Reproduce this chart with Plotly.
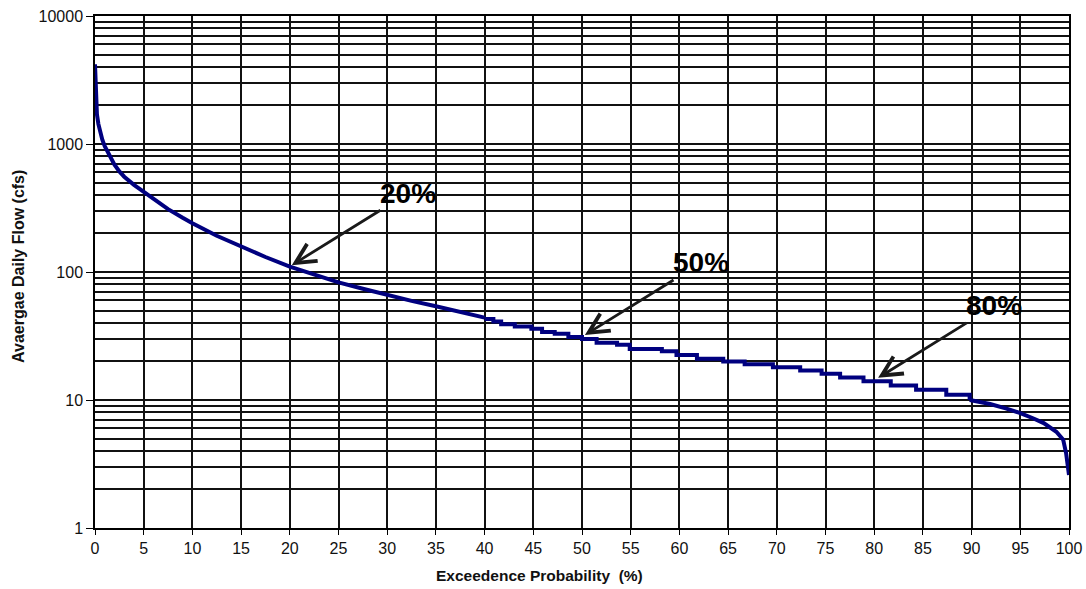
import math
import plotly.graph_objects as go

# Smooth upper part of the flow-duration curve (exceedance %, flow cfs)
smooth_pct = [0.0, 0.02, 0.05, 0.1, 0.2, 0.35, 0.5, 0.75, 1.0, 1.5, 2.0, 2.5, 3.0, 4.0, 5.0, 6.0, 7.5, 9.0,
              10.0, 12.5, 15.0, 17.5, 20.0, 22.5, 25.0, 27.5, 30.0, 32.5, 35.0, 37.5, 40.0]
smooth_flow = [4200, 3700, 3300, 2000, 1700, 1430, 1250, 1080, 960, 800, 690, 610, 555, 480, 424, 375, 310, 265,
               240, 192, 158, 131, 110, 95, 83, 74, 66, 59.5, 54, 48.5, 44]

# Stepped middle part (start of each step, flow held until next step)
step_pct = [40.0, 40.9, 41.7, 43.1, 44.8, 45.9, 47.2, 48.6, 50.0, 51.5, 53.6, 54.9, 58.2, 59.7, 61.8,
            64.5, 66.7, 69.6, 72.4, 74.6, 76.5, 78.9, 81.7, 84.3, 87.4, 89.8]
step_flow = [43, 41, 39, 37.5, 36, 34, 33, 31, 30, 28, 27, 25, 24, 22.5, 21,
             20, 19, 18, 17, 16, 15, 14, 13, 12, 11, 10]

# Low-flow tail
tail_pct = [89.8, 91.9, 93.5, 95.0, 96.3, 97.4, 98.7, 99.4, 99.7, 100.0]
tail_flow = [10, 9.3, 8.6, 7.9, 7.2, 6.6, 5.65, 4.9, 3.85, 2.6]

x_ticks = list(range(0, 101, 5))
y_major = [1, 10, 100, 1000, 10000]
y_major_text = ["1", "10", "100", "1000", "10000"]
y_minor = [m * d for d in [1, 10, 100, 1000] for m in range(2, 10)]

annot_labels = ["20%", "50%", "80%"]
annot_pct = [20.2, 50.3, 80.4]
annot_flow = [113, 32.2, 14.9]

FONT = "Liberation Sans, Arial, sans-serif"
line_color = "#00007f"
grid_color = "#111111"
fig = go.Figure()
fig.add_trace(go.Scatter(x=smooth_pct, y=smooth_flow, mode="lines",
                         line=dict(color=line_color, width=4), showlegend=False))
fig.add_trace(go.Scatter(x=step_pct, y=step_flow, mode="lines", line_shape="hv",
                         line=dict(color=line_color, width=4), showlegend=False))
fig.add_trace(go.Scatter(x=tail_pct, y=tail_flow, mode="lines",
                         line=dict(color=line_color, width=4), showlegend=False))

for lab, px, fy in zip(annot_labels, annot_pct, annot_flow):
    fig.add_annotation(x=px, y=math.log10(fy), yref="y", xref="x", text=f"<b>{lab}</b>",
                       showarrow=True, ax=116, ay=-72, arrowhead=5, arrowsize=1.4,
                       arrowwidth=2.8, arrowcolor="#1a1a1a",
                       font=dict(size=28, color="black", family=FONT))

fig.add_annotation(x=0.456, y=-0.092, xref="paper", yref="paper",
                   text="<b>Exceedence Probability  (%)</b>", showarrow=False,
                   font=dict(size=15.5, color="#111", family=FONT),
                   xanchor="center", yanchor="middle")
fig.add_annotation(x=-0.078, y=0.51, xref="paper", yref="paper",
                   text="<b>Avaergae Daily Flow (cfs)</b>", showarrow=False, textangle=-90,
                   font=dict(size=16, color="#111", family=FONT),
                   xanchor="center", yanchor="middle")

fig.update_layout(
    width=1086, height=589,
    margin=dict(l=95, r=17, t=16, b=61, autoexpand=False),
    paper_bgcolor="white", plot_bgcolor="white",
    font=dict(family=FONT, size=16, color="#111"),
    xaxis=dict(range=[0, 100], tickvals=x_ticks, showgrid=True, gridcolor=grid_color, gridwidth=1.5,
               showline=True, linecolor="black", linewidth=1.5, mirror=True, automargin=False,
               ticks="outside", ticklen=5, tickcolor="black", zeroline=False),
    yaxis=dict(type="log", range=[0, 4], tickvals=y_major, ticktext=y_major_text,
               showgrid=True, gridcolor=grid_color, gridwidth=1.5, automargin=False,
               showline=True, linecolor="black", linewidth=1.5, mirror=True,
               ticks="outside", ticklen=7, tickcolor="black", zeroline=False,
               minor=dict(tickvals=y_minor, showgrid=True, gridcolor=grid_color, gridwidth=1.5, ticks="")),
)

fig.write_html("out.html", config={"displayModeBar": False},
               post_script="document.body.style.margin='0';document.body.style.overflow='hidden';")
